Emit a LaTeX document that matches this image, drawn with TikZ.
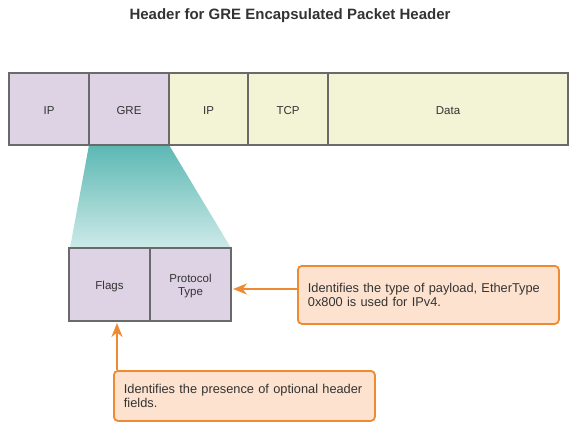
\documentclass[tikz,border=0pt]{standalone}
\usepackage{fontspec}
\setmainfont{Liberation Sans}
\usetikzlibrary{arrows.meta}
\definecolor{pur}{HTML}{DDD3E4}
\definecolor{yel}{HTML}{F3F3D5}
\definecolor{bord}{HTML}{6A6A6A}
\definecolor{org}{HTML}{EE8A32}
\definecolor{orgfill}{HTML}{FDE3CF}
\definecolor{tealtop}{HTML}{5CB8B3}
\definecolor{tealbot}{HTML}{CDEAE8}
\definecolor{txt}{HTML}{333333}
\begin{document}
\begin{tikzpicture}[x=1pt,y=-1pt,
  field/.style={draw=bord,line width=2.2pt},
  lbl/.style={text=txt,font=\fontsize{11.5}{13.5}\selectfont},
  callout/.style={draw=org,fill=orgfill,line width=1.8pt,rounded corners=4pt,text=txt,font=\fontsize{12.8}{13.8}\selectfont,align=left,inner xsep=10pt},
  arr/.style={draw=org,line width=2.5pt,-{Stealth[length=14pt,width=11pt,inset=4.5pt]}}]
\useasboundingbox (0,0) rectangle (576,441);
\node[font=\bfseries\fontsize{15}{17}\selectfont,text=txt] (title) at (290,15.5) {Header for GRE Encapsulated Packet Header};
% trapezoid
\shade[top color=tealtop,bottom color=tealbot] (89,145) -- (169,145) -- (231,248) -- (70,248) -- cycle;
% top fields
\path[field,fill=pur] (9,73) rectangle (89,145);
\path[field,fill=pur] (89,73) rectangle (169,145);
\path[field,fill=yel] (169,73) rectangle (248,145);
\path[field,fill=yel] (248,73) rectangle (328,145);
\path[field,fill=yel] (328,73) rectangle (568,145);
\node[lbl] (ip1) at (49,111) {IP};
\node[lbl] (gre) at (129,111) {GRE};
\node[lbl] (ip2) at (208.5,111) {IP};
\node[lbl] (tcp) at (288,111) {TCP};
\node[lbl] (data) at (448,111) {Data};
% lower fields
\path[field,fill=pur] (69,248) rectangle (150,321);
\path[field,fill=pur] (150,248) rectangle (231,321);
\node[lbl] (flags) at (109.5,287) {Flags};
\node[lbl,align=center] (proto) at (190.5,286) {Protocol\\Type};
\coordinate (protoR) at (233,289);
\coordinate (flagsB) at (117,323);
% callouts
\node[callout,minimum width=261pt,minimum height=58pt,text width=241pt,anchor=north west] (c1) at (297,265) {Identifies the type of payload, EtherType\\0x800 is used for IPv4.};
\node[callout,minimum width=261pt,minimum height=50pt,text width=241pt,anchor=north west] (c2) at (113,370) {Identifies the presence of optional header\\fields.};
\draw[arr] (c1.west |- protoR) -- (protoR);
\draw[arr] (flagsB |- c2.north) -- (flagsB);
\end{tikzpicture}
\end{document}
